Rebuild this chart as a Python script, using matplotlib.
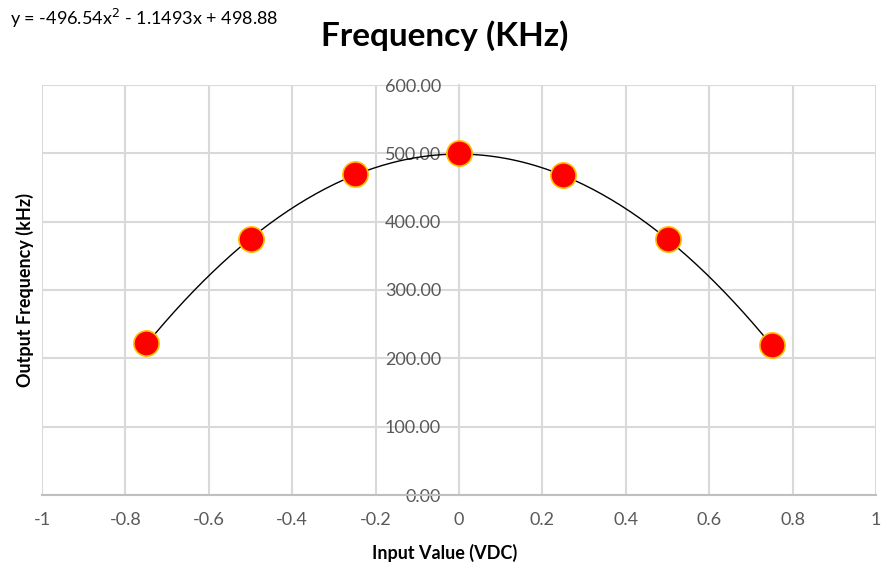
import matplotlib
matplotlib.use('Agg')
import matplotlib.pyplot as plt
import numpy as np

# data
input_vdc = [-0.75, -0.5, -0.25, 0.0, 0.25, 0.5, 0.75]
freq_khz = [222, 375, 470, 500, 468, 374, 219]
# trendline coefficients from the label
coef = [-496.54, -1.1493, 498.88]
x_ticks = [-1, -0.8, -0.6, -0.4, -0.2, 0, 0.2, 0.4, 0.6, 0.8, 1]
x_tick_labels = ['-1', '-0.8', '-0.6', '-0.4', '-0.2', '0', '0.2', '0.4', '0.6', '0.8', '1']
y_ticks = [0, 100, 200, 300, 400, 500, 600]

plt.rcParams['font.family'] = ['Lato', 'DejaVu Sans']

fig = plt.figure(figsize=(8.85, 5.72), dpi=100)
ax = fig.add_axes([42/885, 77/572, 834/885, 410/572])

ax.set_xlim(-1, 1)
ax.set_ylim(0, 600)
ax.set_xticks(x_ticks)
ax.set_xticklabels(x_tick_labels)
ax.set_yticks(y_ticks)
ax.set_yticklabels(['%.2f' % v for v in y_ticks])

ax.grid(True, color='#d9d9d9', linewidth=1.5, zorder=0)
ax.set_axisbelow(True)

for s in ['top', 'right']:
    ax.spines[s].set_visible(False)
ax.spines['left'].set_position(('data', 0))
ax.spines['left'].set_color('#d9d9d9')
ax.spines['left'].set_linewidth(1.5)
ax.spines['bottom'].set_color('#bfbfbf')
ax.spines['bottom'].set_linewidth(1.5)

ax.tick_params(axis='both', length=0, colors='#595959', labelsize=13)
ax.tick_params(axis='y', pad=13)
ax.tick_params(axis='x', pad=12)

xs = np.linspace(min(input_vdc), max(input_vdc), 200)
ax.plot(xs, np.polyval(coef, xs), color='black', linewidth=1, zorder=3)
ax.scatter(input_vdc, freq_khz, s=330, color='#ff0000', edgecolors='#ffc000',
           linewidths=1.2, zorder=4, clip_on=False)

fig.text(445/885, 1 - 553/572, 'Input Value (VDC)', fontsize=13, fontweight='bold',
         ha='center', va='center')
fig.text(25/885, 1 - 290/572, 'Output Frequency (kHz)', fontsize=13, fontweight='bold',
         ha='center', va='center', rotation=90)

fig.text(445/885, 1 - 36/572, 'Frequency (KHz)', fontsize=24, fontweight='bold',
         ha='center', va='center')
fig.text(10/885, 1 - 18/572, 'y = -496.54x$^2$ - 1.1493x + 498.88', fontsize=13,
         ha='left', va='center')

plt.savefig('out.png', dpi=100)
